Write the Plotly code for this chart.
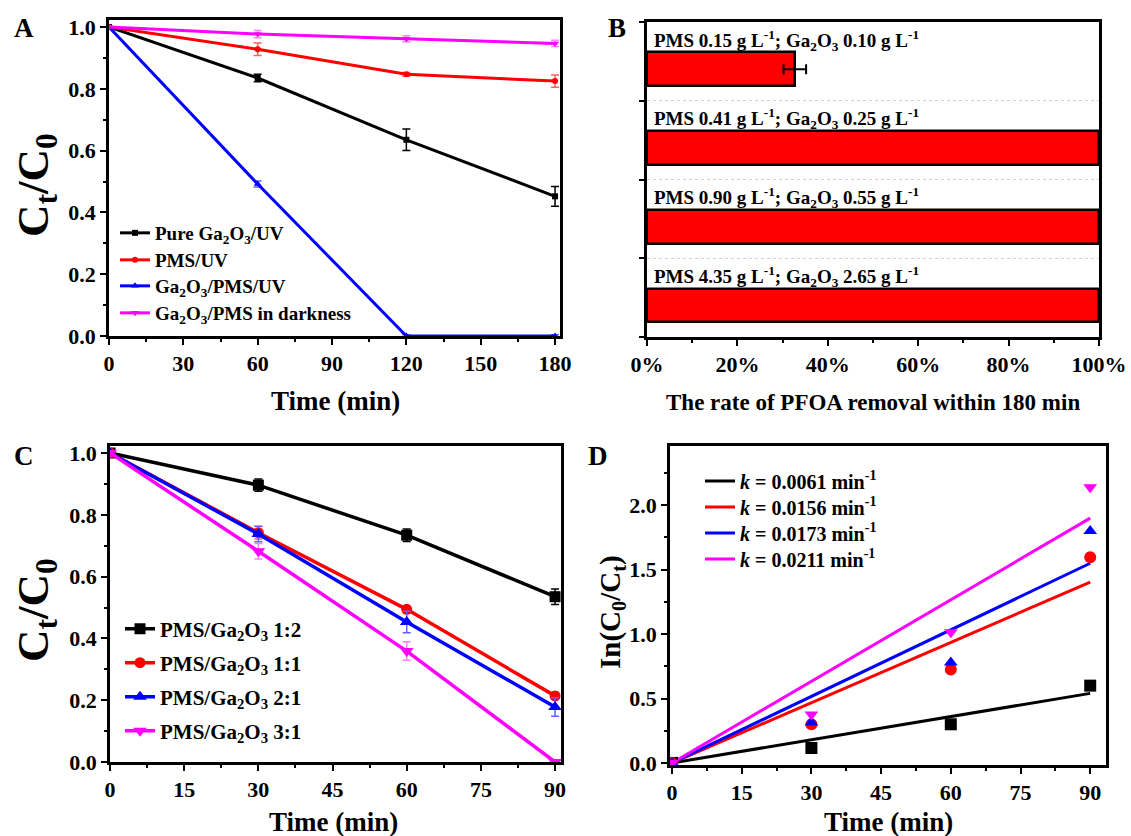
import plotly.graph_objects as go

W, H = 1131, 836
FONT = "Liberation Serif"


def fx(p):
    return p / W


def fy(p):
    return 1 - p / H


# ---------------- Data ----------------
# Panel A
a_time = [0, 60, 120, 180]
a_pure = [1.0, 0.835, 0.635, 0.452]
a_pure_err = [0, 0.012, 0.035, 0.032]
a_pms = [1.0, 0.928, 0.847, 0.825]
a_pms_err = [0, 0.02, 0.006, 0.02]
a_gapms = [1.0, 0.492, 0.0, 0.0]
a_gapms_err = [0, 0.01, 0.004, 0.004]
a_dark = [1.0, 0.977, 0.962, 0.947]
a_dark_err = [0, 0.012, 0.01, 0.01]
a_names = ["Pure Ga<sub>2</sub>O<sub>3</sub>/UV", "PMS/UV",
           "Ga<sub>2</sub>O<sub>3</sub>/PMS/UV",
           "Ga<sub>2</sub>O<sub>3</sub>/PMS in darkness"]

# Panel B
b_labels = ["PMS 0.15 g L<sup>-1</sup>; Ga<sub>2</sub>O<sub>3</sub> 0.10 g L<sup>-1</sup>",
            "PMS 0.41 g L<sup>-1</sup>; Ga<sub>2</sub>O<sub>3</sub> 0.25 g L<sup>-1</sup>",
            "PMS 0.90 g L<sup>-1</sup>; Ga<sub>2</sub>O<sub>3</sub> 0.55 g L<sup>-1</sup>",
            "PMS 4.35 g L<sup>-1</sup>; Ga<sub>2</sub>O<sub>3</sub> 2.65 g L<sup>-1</sup>"]
b_removal = [32.7, 100, 100, 100]
b_err = [2.5, None, None, None]

# Panel C
c_time = [0, 30, 60, 90]
c_12 = [1.0, 0.896, 0.734, 0.535]
c_12_err = [0, 0.02, 0.02, 0.025]
c_11 = [1.0, 0.742, 0.494, 0.214]
c_11_err = [0, 0.02, 0.01, 0.012]
c_21 = [1.0, 0.738, 0.453, 0.178]
c_21_err = [0, 0.025, 0.035, 0.03]
c_31 = [1.0, 0.682, 0.359, 0.0]
c_31_err = [0, 0.025, 0.03, 0.0]
c_names = ["PMS/Ga<sub>2</sub>O<sub>3</sub> 1:2", "PMS/Ga<sub>2</sub>O<sub>3</sub> 1:1",
           "PMS/Ga<sub>2</sub>O<sub>3</sub> 2:1", "PMS/Ga<sub>2</sub>O<sub>3</sub> 3:1"]

# Panel D
d_time = [0, 30, 60, 90]
d_12 = [0, 0.116, 0.30, 0.60]
d_11 = [0, 0.30, 0.725, 1.596]
d_21 = [0, 0.313, 0.78, 1.80]
d_31 = [0, 0.376, 1.015, 2.14]
d_fit_t = [0, 90]
d_fit_12 = [0, 0.54]
d_fit_11 = [0, 1.404]
d_fit_21 = [0, 1.55]
d_fit_31 = [0, 1.90]
d_names = ["<i>k</i> = 0.0061 min<sup>-1</sup>", "<i>k</i> = 0.0156 min<sup>-1</sup>",
           "<i>k</i> = 0.0173 min<sup>-1</sup>", "<i>k</i> = 0.0211 min<sup>-1</sup>"]

BLACK, RED, BLUE, MAG = "#000000", "#ff0000", "#0000ff", "#ff00ff"

# legend row centres (px) for each panel
A_leg_rows = [233, 260, 286, 313]
C_leg_rows = [629, 663, 697, 731]
D_leg_rows = [481, 507, 533, 559]

fig = go.Figure()
legends = {}
leg_count = [0]


def new_legend(xpx, ypx, size):
    leg_count[0] += 1
    key = "legend" if leg_count[0] == 1 else f"legend{leg_count[0]}"
    legends[key] = dict(x=fx(xpx), y=fy(ypx), xanchor="left", yanchor="middle",
                        bgcolor="rgba(0,0,0,0)", borderwidth=0,
                        font=dict(family=FONT, size=size, color="black", weight="bold"))
    return key


# ---------- Panel A ----------
a_series = [(a_pure, a_pure_err, BLACK, "square", 6, "#000000"),
            (a_pms, a_pms_err, RED, "circle", 6, "#ff6060"),
            (a_gapms, a_gapms_err, BLUE, "triangle-up", 7, "#6060ff"),
            (a_dark, a_dark_err, MAG, "triangle-down", 7, "#ff80ff")]
for (vals, err, col, sym, ms, ecol), name, row in zip(a_series, a_names, A_leg_rows):
    fig.add_trace(go.Scatter(
        x=a_time, y=vals, mode="lines+markers", name=name,
        line=dict(color=col, width=3),
        marker=dict(symbol=sym, size=ms, color=col),
        error_y=dict(type="data", array=err, color=ecol, thickness=1.5, width=4),
        xaxis="x", yaxis="y", legend=new_legend(115, row, 19)))

# ---------- Panel B ----------
b_pos = [i + 0.6 for i in range(len(b_removal))]
fig.add_trace(go.Bar(
    x=b_removal, y=b_pos, orientation="h", width=0.43,
    marker=dict(color=RED, line=dict(color="black", width=2.5)),
    error_x=dict(type="data", array=b_err, color="black", thickness=2, width=5),
    xaxis="x2", yaxis="y2", showlegend=False))

# ---------- Panel C ----------
c_series = [(c_12, c_12_err, BLACK, "square", 11, "#000000"),
            (c_11, c_11_err, RED, "circle", 11, "#ff6060"),
            (c_21, c_21_err, BLUE, "triangle-up", 12, "#6060ff"),
            (c_31, c_31_err, MAG, "triangle-down", 12, "#ff80ff")]
for (vals, err, col, sym, ms, ecol), name, row in zip(c_series, c_names, C_leg_rows):
    fig.add_trace(go.Scatter(
        x=c_time, y=vals, mode="lines+markers", name=name,
        line=dict(color=col, width=3.5),
        marker=dict(symbol=sym, size=ms, color=col),
        error_y=dict(type="data", array=err, color=ecol, thickness=1.5, width=4),
        xaxis="x3", yaxis="y3", legend=new_legend(120, row, 21)))

# ---------- Panel D ----------
d_series = [(d_12, d_fit_12, BLACK, "square"),
            (d_11, d_fit_11, RED, "circle"),
            (d_21, d_fit_21, BLUE, "triangle-up"),
            (d_31, d_fit_31, MAG, "triangle-down")]
for (pts, fit, col, sym), name, row in zip(d_series, d_names, D_leg_rows):
    fig.add_trace(go.Scatter(
        x=d_fit_t, y=fit, mode="lines", name=name,
        line=dict(color=col, width=3),
        xaxis="x4", yaxis="y4", legend=new_legend(700, row, 20)))
for pts, fit, col, sym in d_series:
    fig.add_trace(go.Scatter(
        x=d_time, y=pts, mode="markers", showlegend=False,
        marker=dict(symbol=sym, size=12, color=col),
        xaxis="x4", yaxis="y4"))

# ---------- Axes ----------
tickfont = dict(family=FONT, size=22, color="black", weight="bold")


def ax(domain, rng, dtick, minor_dtick, anchor, **kw):
    d = dict(domain=domain, range=rng, dtick=dtick, tick0=0, anchor=anchor,
             automargin=False,
             showline=True, linecolor="black", linewidth=2.5, mirror=True,
             ticks="outside", ticklen=6, tickwidth=2, tickcolor="black",
             showgrid=False, zeroline=False, tickfont=tickfont,
             minor=dict(dtick=minor_dtick, tick0=0, ticks="outside", ticklen=3,
                        tickwidth=1.5, tickcolor="black", showgrid=False))
    d.update(kw)
    return d


A_x = [fx(109), fx(560)]
A_y = [fy(336), fy(20)]
B_x = [fx(647), fx(1099)]
B_y = [fy(337), fy(22)]
C_x = [fx(110), fx(561)]
C_y = [fy(762), fy(446)]
D_x = [fx(670), fx(1106)]
D_y = [fy(765), fy(446)]

fig.update_layout(
    width=W, height=H, margin=dict(l=0, r=0, t=0, b=0, pad=0, autoexpand=False),
    paper_bgcolor="white", plot_bgcolor="white",
    font=dict(family=FONT, color="black"),
    xaxis=ax(A_x, [0, 182], 30, 15, "y"),
    yaxis=ax(A_y, [0, 1.0227], 0.2, 0.1, "x", tickformat=".1f"),
    xaxis2=ax(B_x, [0, 100], 20, 10, "y2", ticksuffix="%"),
    yaxis2=dict(domain=B_y, range=[4, 0], anchor="x2", tickvals=[0, 1, 2, 3, 4],
                automargin=False,
                showticklabels=False, showline=True, linecolor="black", linewidth=2.5,
                mirror=True, ticks="outside", ticklen=5, tickwidth=2, tickcolor="black",
                showgrid=True, gridcolor="#d0d0d0", griddash="dot", gridwidth=1,
                zeroline=False),
    xaxis3=ax(C_x, [0, 91.2], 15, 7.5, "y3"),
    yaxis3=ax(C_y, [0, 1.0227], 0.2, 0.1, "x3", tickformat=".1f"),
    xaxis4=ax(D_x, [-0.43, 93.4], 15, 7.5, "y4"),
    yaxis4=ax(D_y, [-0.016, 2.46], 0.5, 0.25, "x4", tickformat=".1f"),
    bargap=0,
    **legends,
)

ann = []


def text(x, y, s, size, angle=0, xanchor="center"):
    ann.append(dict(x=fx(x), y=fy(y), xref="paper", yref="paper", text=s,
                    showarrow=False, textangle=angle, xanchor=xanchor, yanchor="middle",
                    font=dict(family=FONT, size=size, color="black", weight="bold")))


# panel letters
text(24, 28, "A", 27)
text(617, 28, "B", 27)
text(24, 456, "C", 27)
text(598, 456, "D", 27)
# axis titles
text(36, 185, "C<sub>t</sub>/C<sub>0</sub>", 45, angle=-90)
text(335, 401, "Time (min)", 27)
text(873, 402, "The rate of PFOA removal within 180 min", 23)
text(36, 610, "C<sub>t</sub>/C<sub>0</sub>", 45, angle=-90)
text(333, 822, "Time (min)", 27)
text(612, 612, "In(C<sub>0</sub>/C<sub>t</sub>)", 29, angle=-90)
text(888, 822, "Time (min)", 27)

# panel B labels
for i, lab in enumerate(b_labels):
    ann.append(dict(x=1.0, y=i + 0.23, xref="x2", yref="y2", text=lab,
                    showarrow=False, xanchor="left", yanchor="middle",
                    font=dict(family=FONT, size=19, color="black", weight="bold")))

fig.update_layout(annotations=ann)
fig.write_html("out.html")
